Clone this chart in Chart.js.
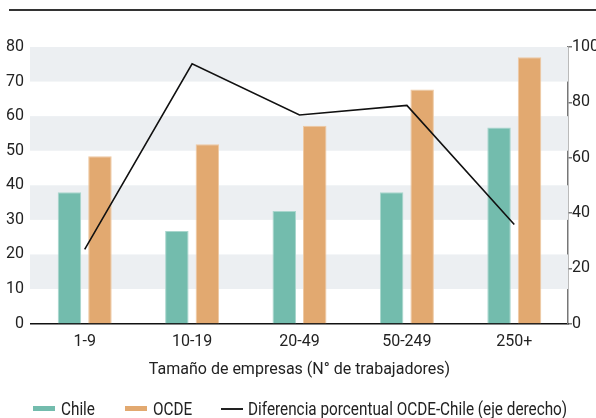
<!DOCTYPE html>
<html>
<head>
<meta charset="utf-8">
<script src="https://cdn.jsdelivr.net/npm/chart.js@4"></script>
<style>
  body { margin: 0; background: #fff; }
  #wrap { position: relative; width: 596px; height: 418px; font-family: Roboto, sans-serif; color: #222; }
  #topLine { position: absolute; left: 9px; right: 0; top: 9px; height: 0; border-top: 2px solid #333; }
  #grafica { position: absolute; left: 0; top: 0; }
  .caja { position: absolute; width: 22px; }
  .texto { position: absolute; top: 398px; font-size: 18px; line-height: 21px; white-space: nowrap; transform: scaleX(0.85); transform-origin: left center; }
</style>
</head>
<body>
<div id="wrap">
  <div id="topLine"></div>
  <canvas id="grafica" width="596" height="418"></canvas>
  <div class="caja" style="left:33px;top:406px;height:5px;background:#73bcad"></div>
  <div class="texto" style="left:61px">Chile</div>
  <div class="caja" style="left:125px;top:406px;height:5px;background:#e2a970"></div>
  <div class="texto" style="left:153px">OCDE</div>
  <div class="caja" style="left:221px;top:408px;height:2px;background:#222"></div>
  <div class="texto" style="left:248px">Diferencia porcentual OCDE-Chile (eje derecho)</div>
</div>
<script>
const categorias = ["1-9", "10-19", "20-49", "50-249", "250+"];
const chile = [38.0, 26.8, 32.6, 38.0, 56.7];
const ocde = [48.4, 51.9, 57.2, 67.7, 77.0];
const diferencia = [26.8, 93.9, 75.4, 78.9, 35.8];

const fuente = "Roboto, sans-serif";

// franjas grises entre 10-20, 30-40, 50-60, 70-80
const franjas = {
  id: "franjas",
  beforeDatasetsDraw(chart) {
    const { ctx, chartArea, scales } = chart;
    const y = scales.y;
    ctx.save();
    ctx.fillStyle = "#eceff2";
    for (let v = 10; v < 80; v += 20) {
      const top = y.getPixelForValue(v + 10);
      const bottom = y.getPixelForValue(v);
      ctx.fillRect(chartArea.left - 1, top, chartArea.right - chartArea.left + 1, bottom - top);
    }
    ctx.restore();
  }
};

new Chart(document.getElementById("grafica"), {
  type: "bar",
  data: {
    labels: categorias,
    datasets: [
      {
        type: "line",
        label: "Diferencia porcentual OCDE-Chile (eje derecho)",
        data: diferencia,
        yAxisID: "y2",
        borderColor: "#111",
        borderWidth: 1.6,
        pointRadius: 0,
        tension: 0,
        order: 0
      },
      {
        label: "Chile",
        data: chile,
        backgroundColor: "#73bcad",
        borderColor: "#a9d6cd",
        borderWidth: 1,
        yAxisID: "y",
        order: 1
      },
      {
        label: "OCDE",
        data: ocde,
        backgroundColor: "#e2a970",
        borderColor: "#eec9a3",
        borderWidth: 1,
        yAxisID: "y",
        order: 1
      }
    ]
  },
  options: {
    responsive: false,
    animation: false,
    categoryPercentage: 0.568,
    barPercentage: 0.77,
    layout: { padding: { top: 47, left: 0, right: 0, bottom: 36 } },
    plugins: {
      legend: { display: false },
      tooltip: { enabled: false }
    },
    scales: {
      x: {
        grid: { display: false, drawTicks: false },
        border: { display: true, color: "#111", width: 1.5 },
        ticks: { color: "#222", padding: 9, font: { family: fuente, size: 16 } },
        title: {
          display: true,
          text: "Tamaño de empresas (N° de trabajadores)",
          color: "#222",
          padding: { top: 0, bottom: 2 },
          font: { family: fuente, size: 16 }
        }
      },
      y: {
        position: "left",
        min: 0,
        max: 80,
        ticks: { stepSize: 10, color: "#222", padding: 7, font: { family: fuente, size: 16 } },
        grid: { display: false, drawTicks: false },
        border: { display: false },
        afterFit(scale) { scale.width = 31; }
      },
      y2: {
        position: "right",
        min: 0,
        max: 100,
        ticks: { stepSize: 20, color: "#222", padding: 0, font: { family: fuente, size: 16 } },
        grid: { display: true, drawOnChartArea: false, drawTicks: true, tickLength: 4, color: "#777", lineWidth: 1.5 },
        border: { display: true, color: "#777", width: 1.5 },
        afterFit(scale) { scale.width = 28; }
      }
    }
  },
  plugins: [franjas]
});
</script>
</body>
</html>
